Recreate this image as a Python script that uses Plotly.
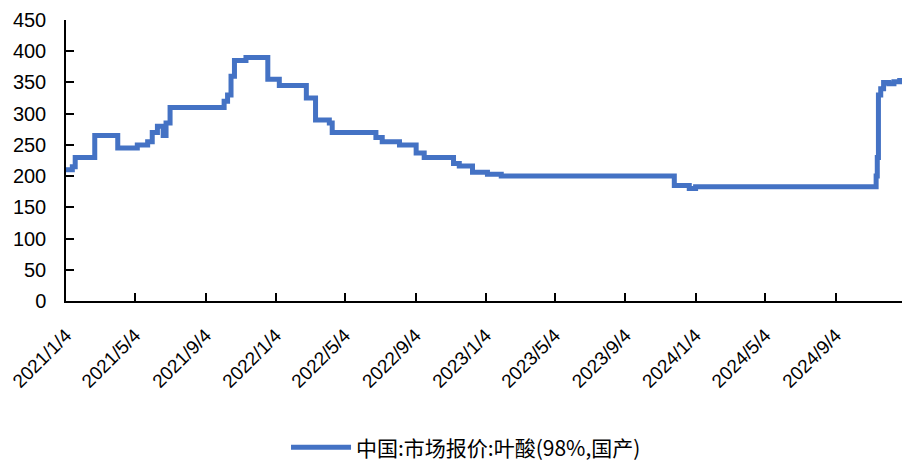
import plotly.graph_objects as go

# Step-change dates and prices (元/kg)
dates = [
    "2021-01-04", "2021-01-15", "2021-01-20", "2021-02-23", "2021-04-04",
    "2021-05-08", "2021-05-26", "2021-06-03", "2021-06-12", "2021-06-22",
    "2021-06-27", "2021-07-04", "2021-10-06", "2021-10-12", "2021-10-18",
    "2021-10-24", "2021-11-13", "2021-12-21", "2022-01-10", "2022-02-26",
    "2022-03-14", "2022-04-07", "2022-04-12", "2022-06-27", "2022-07-08",
    "2022-08-07", "2022-09-05", "2022-09-19", "2022-11-09", "2022-11-19",
    "2022-12-12", "2023-01-07", "2023-01-31", "2023-11-28", "2023-12-24",
    "2024-01-04", "2024-11-13", "2024-11-15", "2024-11-17", "2024-11-21",
    "2024-11-26", "2024-12-05", "2024-12-14", "2024-12-24", "2024-12-28",
]
prices = [
    210, 215, 230, 265, 245,
    250, 255, 270, 280, 265,
    285, 310, 320, 330, 360,
    385, 390, 355, 345, 325,
    290, 285, 270, 262, 255,
    250, 237, 230, 220, 216,
    206, 203, 200, 185, 180,
    183, 200, 230, 330, 340,
    350, 348, 351, 353, 353,
]

tick_dates = [
    "2021-01-04", "2021-05-04", "2021-09-04", "2022-01-04", "2022-05-04",
    "2022-09-04", "2023-01-04", "2023-05-04", "2023-09-04", "2024-01-04",
    "2024-05-04", "2024-09-04",
]
tick_labels = [
    "2021/1/4", "2021/5/4", "2021/9/4", "2022/1/4", "2022/5/4",
    "2022/9/4", "2023/1/4", "2023/5/4", "2023/9/4", "2024/1/4",
    "2024/5/4", "2024/9/4",
]
y_ticks = [0, 50, 100, 150, 200, 250, 300, 350, 400, 450]

series_name = "中国:市场报价:叶酸(98%,国产)"

fig = go.Figure()
fig.add_trace(go.Scatter(
    x=dates, y=prices, mode="lines", name=series_name,
    line=dict(color="#4472C4", width=5, shape="hv"),
))

fig.update_layout(
    width=903, height=463,
    margin=dict(l=66, r=1, t=20, b=162),
    paper_bgcolor="white", plot_bgcolor="white",
    font=dict(family="Liberation Sans, Arial, sans-serif", size=18, color="#000000"),
    showlegend=True,
    legend=dict(
        orientation="h", x=0.4785, xanchor="center",
        yref="container", y=0.033, yanchor="middle",
        font=dict(family="Noto Sans CJK SC, Liberation Sans, sans-serif", size=21),
        itemwidth=60, bgcolor="rgba(0,0,0,0)",
    ),
    xaxis=dict(
        type="date", range=["2021-01-04", "2024-12-28"],
        tickvals=tick_dates, ticktext=tick_labels, tickangle=-45,
        ticks="inside", ticklen=8, tickcolor="black", tickwidth=1.5,
        showline=True, linecolor="black", linewidth=1.5,
        showgrid=False, zeroline=False, automargin=False,
        ticklabelstandoff=14,
        tickfont=dict(size=19),
    ),
    yaxis=dict(
        range=[0, 450], tickvals=y_ticks,
        ticks="inside", ticklen=8, tickcolor="black", tickwidth=1.5,
        showline=True, linecolor="black", linewidth=1.5,
        showgrid=False, zeroline=False, automargin=False,
        ticklabelstandoff=14,
        tickfont=dict(size=20),
    ),
)

fig.write_html(
    "out.html",
    config={"displayModeBar": False},
    post_script="document.body.style.margin='0';document.body.style.overflow='hidden';",
)
